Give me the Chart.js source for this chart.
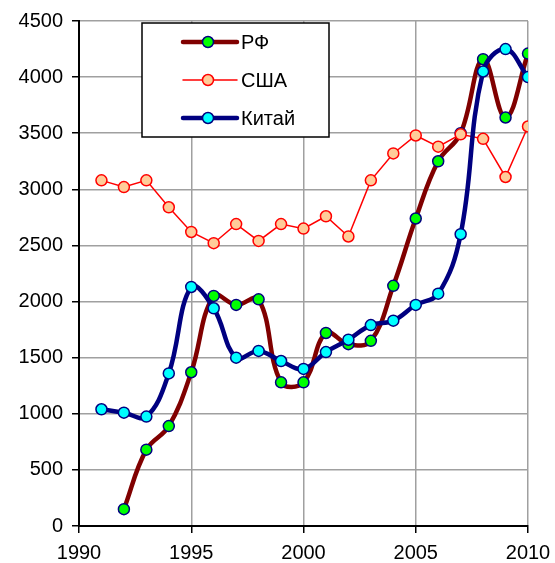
<!DOCTYPE html>
<html>
<head>
<meta charset="utf-8">
<script src="https://cdn.jsdelivr.net/npm/chart.js@4"></script>
<style>
  html, body { margin: 0; padding: 0; background: #fff; }
  #wrap { width: 555px; height: 563px; }
</style>
</head>
<body>
<div id="wrap"><canvas id="myChart" width="555" height="563"></canvas></div>
<script>
// data
const years = [1991, 1992, 1993, 1994, 1995, 1996, 1997, 1998, 1999, 2000,
               2001, 2002, 2003, 2004, 2005, 2006, 2007, 2008, 2009, 2010];
const rf    = [null, 150, 680, 890, 1370, 2050, 1970, 2020, 1280, 1280,
               1720, 1620, 1650, 2140, 2740, 3250, 3500, 4160, 3640, 4210];
const usa   = [3080, 3020, 3080, 2840, 2620, 2520, 2690, 2540, 2690, 2650,
               2760, 2580, 3080, 3320, 3480, 3380, 3490, 3450, 3110, 3560];
const china = [1040, 1010, 975, 1360, 2130, 1940, 1500, 1560, 1470, 1400,
               1550, 1660, 1790, 1830, 1970, 2070, 2600, 4050, 4250, 4000];
const seriesNames = ['РФ', 'США', 'Китай'];

const FONT = 'Liberation Sans, Arial, sans-serif';

function pts(arr) {
    return years.map((y, i) => ({x: y, y: arr[i]}));
}

// legend box drawn by hand: line through a marker, like the original
const boxLegend = {
    id: 'boxLegend',
    afterDraw(chart) {
        const ctx = chart.ctx;
        ctx.save();
        ctx.fillStyle = '#fff';
        ctx.fillRect(142, 23, 187, 114);
        ctx.strokeStyle = '#000';
        ctx.lineWidth = 1.5;
        ctx.strokeRect(142, 23, 187, 114);
        const rows = [42, 80, 118];
        chart.data.datasets.forEach((ds, i) => {
            const y = rows[i];
            ctx.strokeStyle = ds.borderColor;
            ctx.lineWidth = ds.borderWidth;
            ctx.lineCap = 'round';
            ctx.beginPath();
            ctx.moveTo(183, y);
            ctx.lineTo(237, y);
            ctx.stroke();
            ctx.beginPath();
            ctx.arc(208, y, 5.5, 0, Math.PI * 2);
            ctx.fillStyle = ds.pointBackgroundColor;
            ctx.fill();
            ctx.lineWidth = 1.5;
            ctx.strokeStyle = ds.pointBorderColor;
            ctx.stroke();
            ctx.fillStyle = '#000';
            ctx.font = '20px ' + FONT;
            ctx.textBaseline = 'middle';
            ctx.fillText(ds.label, 241, y + 1);
        });
        ctx.restore();
    }
};

const ctx = document.getElementById('myChart').getContext('2d');
const chart = new Chart(ctx, {
    type: 'line',
    data: {
        datasets: [{
            label: seriesNames[0],
            data: pts(rf),
            borderColor: '#800000',
            borderWidth: 4.5,
            tension: 0.4,
            pointRadius: 5.5,
            pointBackgroundColor: '#00ff00',
            pointBorderColor: '#000080',
            pointBorderWidth: 1.5,
            order: 2
        }, {
            label: seriesNames[1],
            data: pts(usa),
            borderColor: '#ff0000',
            borderWidth: 1.5,
            tension: 0,
            pointRadius: 5.5,
            pointBackgroundColor: '#ffcc99',
            pointBorderColor: '#ff0000',
            pointBorderWidth: 1.5,
            order: 1
        }, {
            label: seriesNames[2],
            data: pts(china),
            borderColor: '#000080',
            borderWidth: 4.5,
            tension: 0.4,
            pointRadius: 5.5,
            pointBackgroundColor: '#00ffff',
            pointBorderColor: '#000080',
            pointBorderWidth: 1.5,
            order: 0
        }]
    },
    options: {
        responsive: false,
        animation: false,
        layout: { padding: { left: 0, top: 21, right: 27, bottom: 0 } },
        plugins: {
            legend: { display: false },
            tooltip: { enabled: false }
        },
        scales: {
            x: {
                type: 'linear',
                min: 1990,
                max: 2010,
                afterFit: s => {
                    s.height = 37;
                    s.paddingLeft = 0;
                    s.paddingRight = 0;
                },
                ticks: {
                    stepSize: 5,
                    color: '#000',
                    font: { family: FONT, size: 20 },
                    padding: 8,
                    maxRotation: 0,
                    callback: v => String(v)
                },
                grid: { color: '#a0a0a0', lineWidth: 1.5, tickColor: '#000', tickLength: 7 },
                border: { color: '#000', width: 2 }
            },
            y: {
                min: 0,
                max: 4500,
                afterFit: s => {
                    s.width = 79;
                    s.paddingTop = 0;
                    s.paddingBottom = 0;
                },
                ticks: {
                    stepSize: 500,
                    color: '#000',
                    font: { family: FONT, size: 20 },
                    padding: 9,
                    callback: v => String(v)
                },
                grid: { color: '#a0a0a0', lineWidth: 1.5, tickColor: '#000', tickLength: 7 },
                border: { color: '#000', width: 2 }
            }
        }
    },
    plugins: [boxLegend]
});
</script>
</body>
</html>
